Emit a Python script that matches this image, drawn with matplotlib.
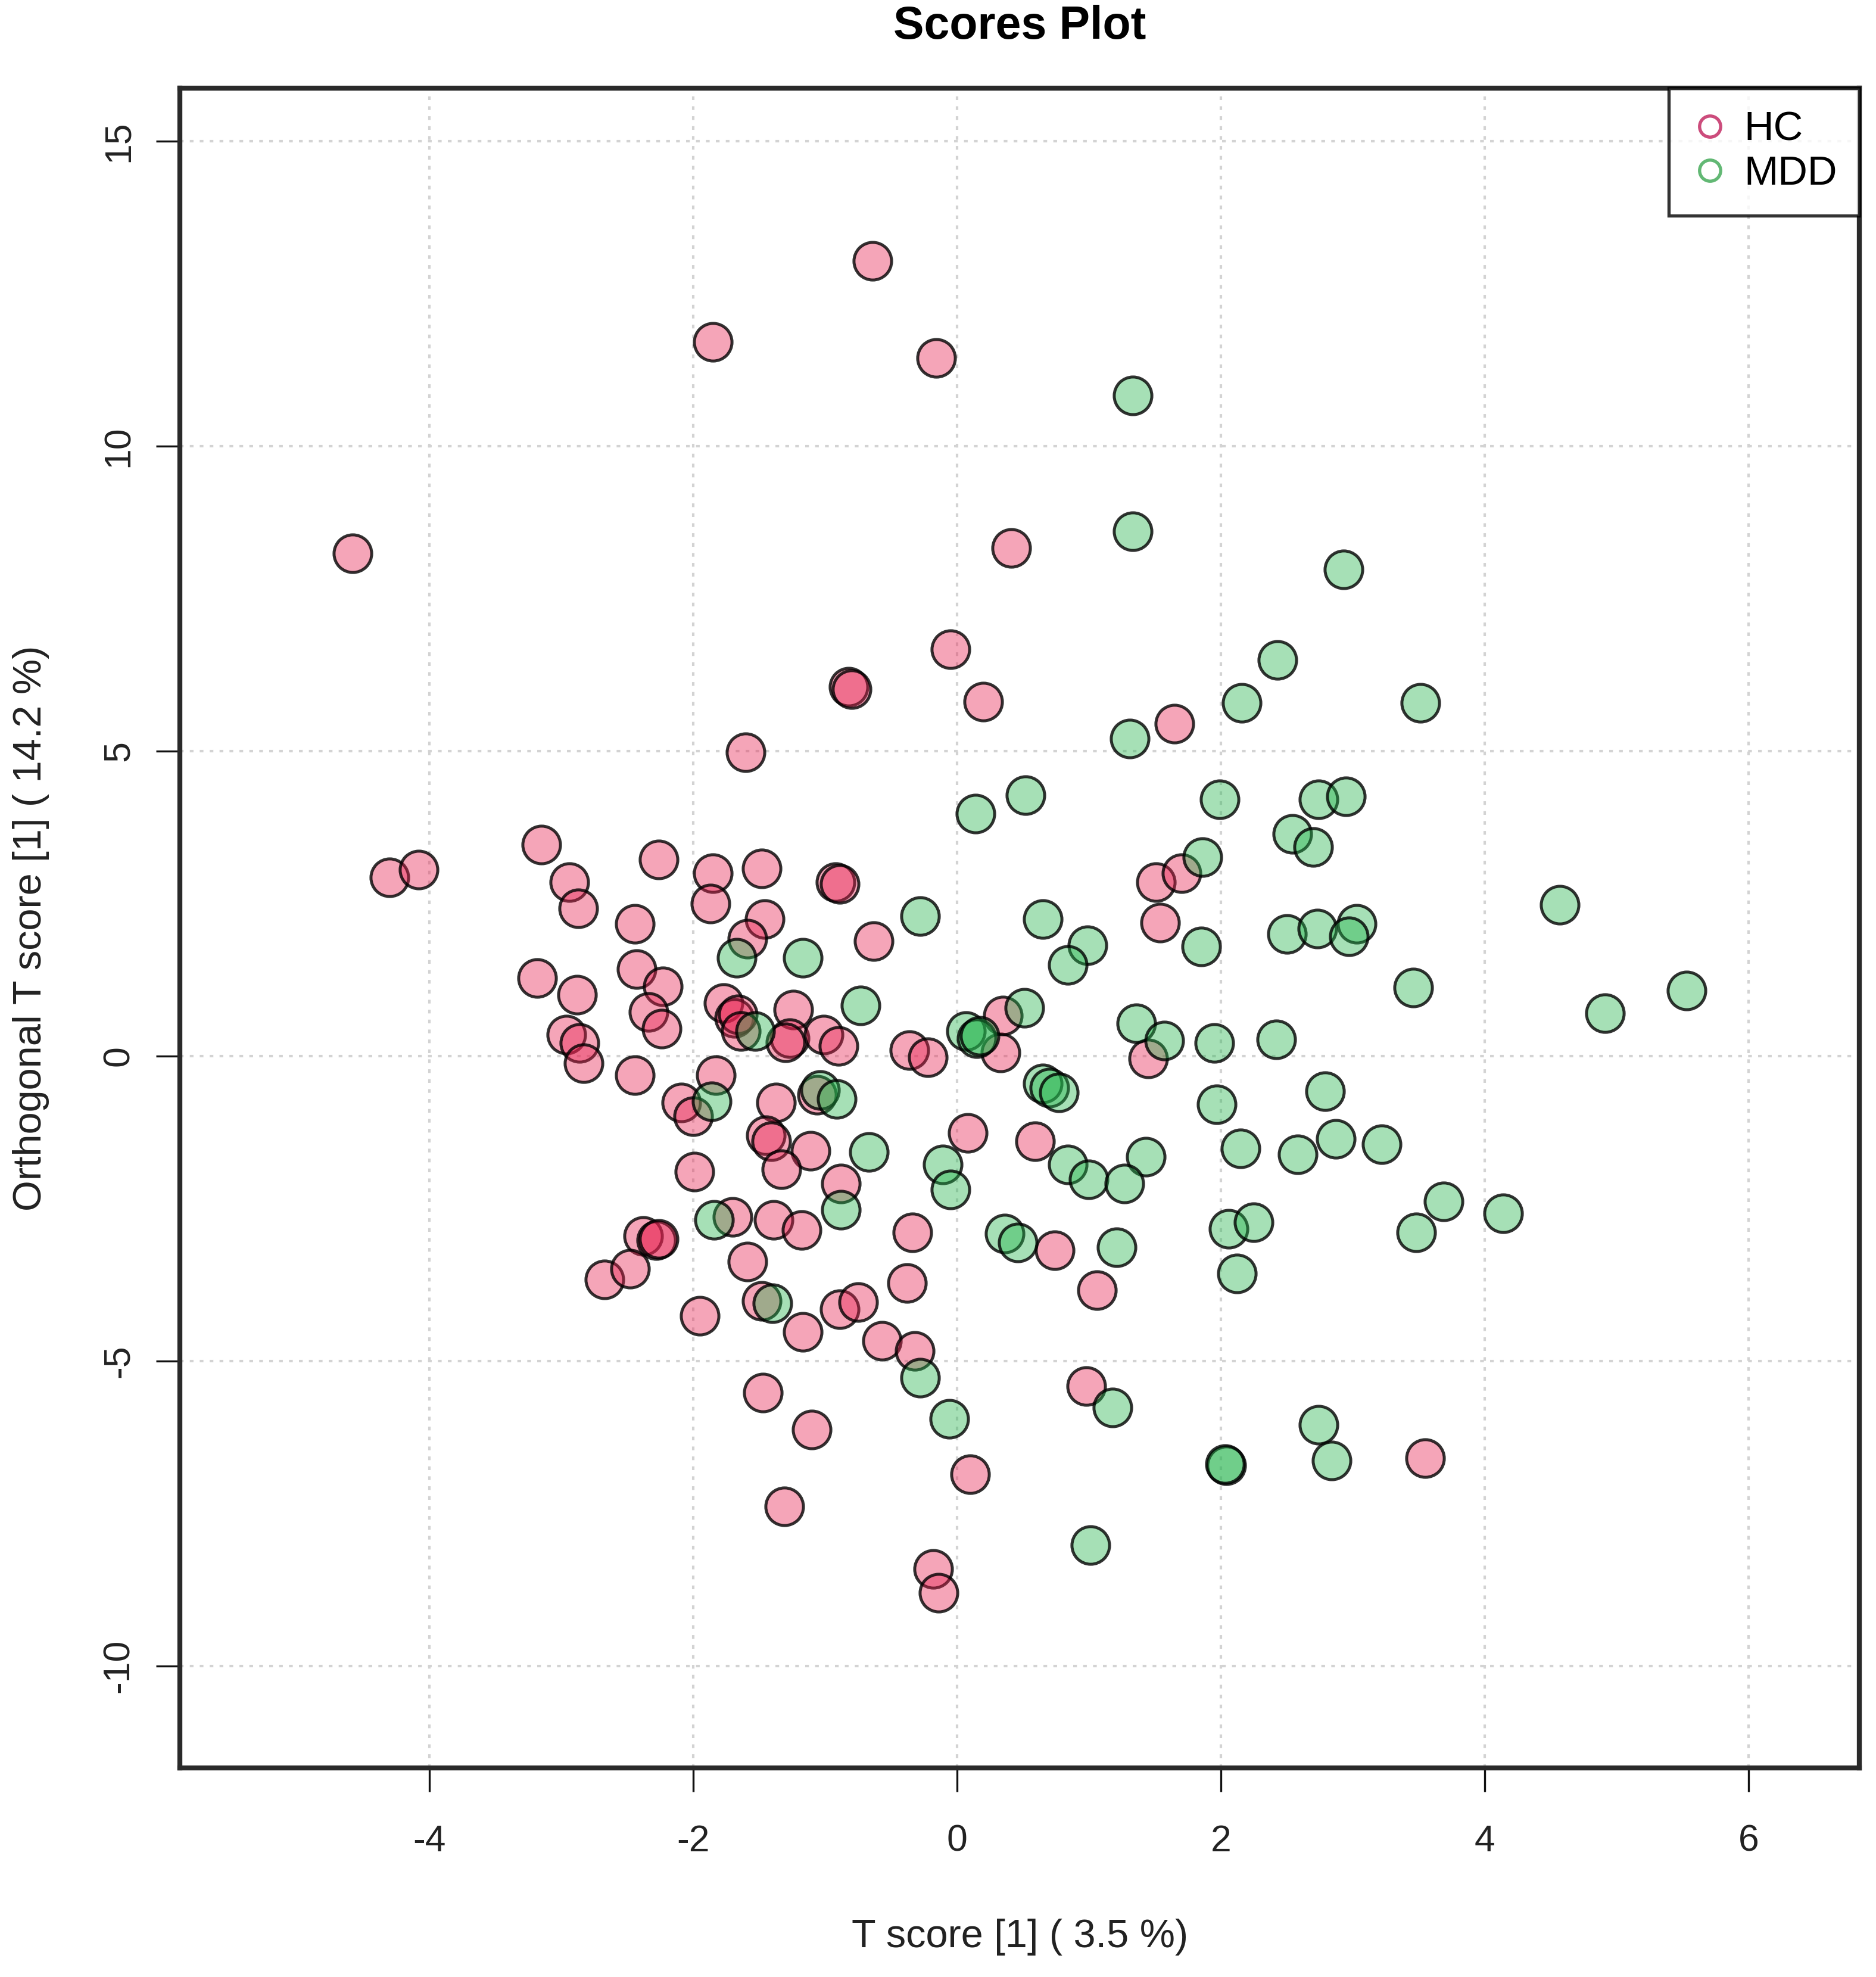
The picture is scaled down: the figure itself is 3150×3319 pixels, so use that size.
import matplotlib
matplotlib.use("Agg")
import matplotlib.pyplot as plt
from matplotlib.lines import Line2D

plt.rcParams['font.family'] = ['Liberation Sans', 'DejaVu Sans']
plt.rcParams['axes.unicode_minus'] = False

# scores
hc_x = [-0.64, -1.85, -0.16, -4.58, 0.41, -0.05, -0.82, -0.80, 0.20, 1.65,
        -1.60, -3.15, -4.30, -4.08, -2.26, -1.85, -1.48, -0.92, -0.89, -2.94,
        -2.87, -1.87, -1.46, -2.44, 1.51, 1.70, 1.54, -1.59, -0.63, -3.18,
        -2.43, -2.23, -2.88, -1.77, -2.34, -1.69, -1.66, -1.24, -1.64, -2.24,
        -2.96, -2.86, -2.83, -1.27, -1.30, -1.01, -0.90, -0.36, -0.22, 0.33,
        0.35, 1.45, -2.44, -1.83, -2.09, -2.00, -1.37, -1.06, -1.45, -1.41,
        -1.11, -1.33, 0.08, 0.59, -1.99, -0.88, -1.70, -1.39, -1.18, -0.34,
        -2.38, -2.28, -2.26, -1.59, 0.74, -2.67, -2.48, -0.38, 1.06, -1.48,
        -0.89, -0.75, -1.95, -1.17, -0.57, -0.32, -1.47, 0.98, -1.10, 0.10,
        -1.31, 3.55, -0.18, -0.14]
hc_y = [13.04, 11.71, 11.45, 8.24, 8.33, 6.67, 6.05, 6.02, 5.81, 5.45,
        4.98, 3.47, 2.93, 3.06, 3.22, 3.00, 3.08, 2.85, 2.82, 2.85,
        2.42, 2.50, 2.25, 2.17, 2.85, 3.00, 2.19, 1.92, 1.88, 1.28,
        1.43, 1.14, 1.01, 0.87, 0.72, 0.62, 0.68, 0.76, 0.41, 0.45,
        0.35, 0.21, -0.12, 0.29, 0.22, 0.35, 0.17, 0.10, -0.02, 0.06,
        0.66, -0.04, -0.31, -0.31, -0.76, -0.99, -0.76, -0.64, -1.30, -1.40,
        -1.55, -1.86, -1.26, -1.40, -1.90, -2.09, -2.64, -2.69, -2.85, -2.89,
        -2.95, -3.02, -3.00, -3.37, -3.18, -3.66, -3.49, -3.72, -3.84, -4.01,
        -4.15, -4.03, -4.26, -4.52, -4.67, -4.83, -5.52, -5.41, -6.12, -6.86,
        -7.38, -6.59, -8.41, -8.80]

mdd_x = [1.33, 1.33, 2.93, 2.43, 3.51, 2.16, 1.31, 0.52, 0.14, 1.99,
         2.74, 2.95, 2.54, 2.70, 1.86, 4.57, -0.28, 0.65, 2.50, 2.73,
         3.03, 2.97, 1.85, 0.99, 0.84, -1.67, -1.17, -0.73, 3.46, 5.53,
         4.91, 0.51, -1.53, 0.07, 0.15, 0.17, 1.36, 1.57, 1.95, 2.42,
         0.65, 0.70, 0.77, 1.97, 2.79, 2.87, 3.22, 2.15, 2.58, 1.43,
         0.84, 1.00, 1.27, -0.11, -0.05, -0.67, -1.04, -0.91, -1.86, -1.84,
         -0.88, 3.69, 4.14, 3.48, 2.06, 2.25, 0.36, 0.46, 1.21, 2.12,
         -1.40, -0.28, 1.18, -0.06, 2.74, 2.84, 2.04, 2.03, 1.01]
mdd_y = [10.83, 8.60, 7.98, 6.49, 5.79, 5.79, 5.21, 4.28, 3.97, 4.21,
         4.21, 4.26, 3.64, 3.43, 3.26, 2.48, 2.29, 2.25, 2.00, 2.09,
         2.17, 1.96, 1.80, 1.82, 1.49, 1.61, 1.61, 0.83, 1.12, 1.07,
         0.70, 0.79, 0.41, 0.41, 0.29, 0.33, 0.54, 0.25, 0.21, 0.27,
         -0.45, -0.52, -0.60, -0.79, -0.58, -1.36, -1.45, -1.51, -1.61, -1.65,
         -1.78, -2.02, -2.09, -1.78, -2.19, -1.57, -0.56, -0.70, -0.74, -2.69,
         -2.52, -2.38, -2.58, -2.89, -2.83, -2.73, -2.91, -3.06, -3.14, -3.57,
         -4.05, -5.27, -5.76, -5.95, -6.05, -6.63, -6.71, -6.69, -8.02]

groups = ['HC', 'MDD']
fill_colors = [(0.91, 0.12, 0.31, 0.40), (0.13, 0.70, 0.29, 0.40)]
legend_colors = ['#CC4C7C', '#62B874']

fig = plt.figure(figsize=(10.5, 3319 / 300), dpi=300)
ax = fig.add_axes([0.0959, 0.1058, 0.8953, 0.8496])

ax.scatter(hc_x, hc_y, s=230, c=[fill_colors[0]], edgecolors=(0, 0, 0, 0.8),
           linewidths=1.2, zorder=3)
ax.scatter(mdd_x, mdd_y, s=230, c=[fill_colors[1]], edgecolors=(0, 0, 0, 0.8),
           linewidths=1.2, zorder=3)

ax.set_xlim(-5.89, 6.84)
ax.set_ylim(-11.67, 15.87)
ax.set_xticks([-4, -2, 0, 2, 4, 6])
ax.set_yticks([-10, -5, 0, 5, 10, 15])
ax.grid(True, color='#D3D3D3', linestyle=(0, (1.5, 2.5)), linewidth=1.0, zorder=0)

for sp in ax.spines.values():
    sp.set_linewidth(2.0)
    sp.set_color('#2a2a2a')
ax.tick_params(direction='out', length=9.5, width=0.8, color='#111111',
               labelsize=15, labelcolor='#222222')
ax.tick_params(axis='x', pad=13)
ax.tick_params(axis='y', pad=8)
for lab in ax.get_yticklabels():
    lab.set_rotation(90)
    lab.set_va('center')

ax.set_xlabel('T score [1] ( 3.5 %)', fontsize=16, color='#222222', labelpad=24)
ax.set_ylabel('Orthogonal T score [1] ( 14.2 %)', fontsize=16, color='#222222',
              labelpad=21)
ax.set_title('Scores Plot', fontsize=18.5, fontweight='bold', pad=20)

handles = [Line2D([], [], linestyle='none', marker='o', markersize=8.5,
                  markerfacecolor='none', markeredgecolor=c, markeredgewidth=1.3)
           for c in legend_colors]
leg = ax.legend(handles, groups, loc='upper right', fontsize=16.5, frameon=True,
                fancybox=False, borderaxespad=0.0, handletextpad=0.38,
                handlelength=0.9, borderpad=0.55, labelspacing=0.15)
leg.get_frame().set_edgecolor('black')
leg.get_frame().set_linewidth(1.3)

fig.savefig('out.png', dpi=300, facecolor='white')
